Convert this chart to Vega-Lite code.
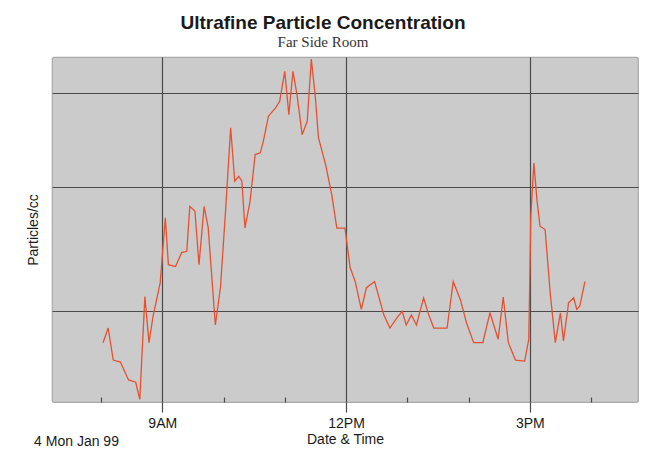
{
  "$schema": "https://vega.github.io/schema/vega-lite/v6.json",
  "autosize": {"type": "none"},
  "padding": {"left": 52, "top": 57, "right": 16, "bottom": 55},
  "width": 586,
  "height": 345,
  "background": "white",
  "config": {
    "view": {"fill": "#cbcbcb", "stroke": "#a9a9a9", "strokeWidth": 1.2, "cornerRadius": 2},
    "font": "Liberation Sans"
  },
  "title": {
    "text": "Ultrafine Particle Concentration",
    "subtitle": "Far Side Room",
    "font": "Liberation Sans",
    "fontSize": 19,
    "fontWeight": "bold",
    "color": "#1a1a1a",
    "subtitleFont": "Liberation Serif",
    "subtitleFontSize": 15,
    "subtitleColor": "#333333",
    "subtitlePadding": 2,
    "anchor": "middle",
    "dx": -22,
    "offset": 7
  },
  "layer": [
    {
      "data": {
        "values": [
          {"t": "1999-01-04T08:02", "v": 15800},
          {"t": "1999-01-04T08:07", "v": 17600},
          {"t": "1999-01-04T08:12", "v": 13900},
          {"t": "1999-01-04T08:19", "v": 13700},
          {"t": "1999-01-04T08:27", "v": 12000},
          {"t": "1999-01-04T08:34", "v": 11800},
          {"t": "1999-01-04T08:38", "v": 10400},
          {"t": "1999-01-04T08:43", "v": 22200},
          {"t": "1999-01-04T08:47", "v": 15800},
          {"t": "1999-01-04T08:51", "v": 19200},
          {"t": "1999-01-04T08:58", "v": 24600},
          {"t": "1999-01-04T09:03", "v": 39700},
          {"t": "1999-01-04T09:06", "v": 28100},
          {"t": "1999-01-04T09:13", "v": 27700},
          {"t": "1999-01-04T09:19", "v": 30700},
          {"t": "1999-01-04T09:24", "v": 31000},
          {"t": "1999-01-04T09:27", "v": 43200},
          {"t": "1999-01-04T09:32", "v": 41700},
          {"t": "1999-01-04T09:36", "v": 28100},
          {"t": "1999-01-04T09:41", "v": 43200},
          {"t": "1999-01-04T09:45", "v": 36900},
          {"t": "1999-01-04T09:52", "v": 18000},
          {"t": "1999-01-04T09:57", "v": 23700},
          {"t": "1999-01-04T10:02", "v": 41700},
          {"t": "1999-01-04T10:07", "v": 77100},
          {"t": "1999-01-04T10:11", "v": 52000},
          {"t": "1999-01-04T10:15", "v": 53900},
          {"t": "1999-01-04T10:18", "v": 52000},
          {"t": "1999-01-04T10:21", "v": 36800},
          {"t": "1999-01-04T10:26", "v": 44800},
          {"t": "1999-01-04T10:31", "v": 63300},
          {"t": "1999-01-04T10:36", "v": 64100},
          {"t": "1999-01-04T10:39", "v": 69800},
          {"t": "1999-01-04T10:44", "v": 84000},
          {"t": "1999-01-04T10:51", "v": 89300},
          {"t": "1999-01-04T10:55", "v": 93800},
          {"t": "1999-01-04T11:00", "v": 117000},
          {"t": "1999-01-04T11:04", "v": 85000},
          {"t": "1999-01-04T11:08", "v": 117000},
          {"t": "1999-01-04T11:12", "v": 98500},
          {"t": "1999-01-04T11:17", "v": 73300},
          {"t": "1999-01-04T11:22", "v": 80900},
          {"t": "1999-01-04T11:26", "v": 128000},
          {"t": "1999-01-04T11:30", "v": 96400},
          {"t": "1999-01-04T11:33", "v": 71700},
          {"t": "1999-01-04T11:40", "v": 58800},
          {"t": "1999-01-04T11:46", "v": 47100},
          {"t": "1999-01-04T11:51", "v": 36800},
          {"t": "1999-01-04T11:59", "v": 36800},
          {"t": "1999-01-04T12:04", "v": 27500},
          {"t": "1999-01-04T12:09", "v": 24800},
          {"t": "1999-01-04T12:15", "v": 20200},
          {"t": "1999-01-04T12:20", "v": 23700},
          {"t": "1999-01-04T12:28", "v": 24800},
          {"t": "1999-01-04T12:37", "v": 19400},
          {"t": "1999-01-04T12:43", "v": 17600},
          {"t": "1999-01-04T12:50", "v": 19000},
          {"t": "1999-01-04T12:55", "v": 19900},
          {"t": "1999-01-04T12:59", "v": 18000},
          {"t": "1999-01-04T13:04", "v": 19400},
          {"t": "1999-01-04T13:09", "v": 18000},
          {"t": "1999-01-04T13:16", "v": 22000},
          {"t": "1999-01-04T13:21", "v": 19400},
          {"t": "1999-01-04T13:26", "v": 17600},
          {"t": "1999-01-04T13:39", "v": 17600},
          {"t": "1999-01-04T13:45", "v": 24800},
          {"t": "1999-01-04T13:52", "v": 21700},
          {"t": "1999-01-04T13:58", "v": 18300},
          {"t": "1999-01-04T14:05", "v": 15800},
          {"t": "1999-01-04T14:14", "v": 15800},
          {"t": "1999-01-04T14:21", "v": 19700},
          {"t": "1999-01-04T14:29", "v": 16200},
          {"t": "1999-01-04T14:34", "v": 22100},
          {"t": "1999-01-04T14:39", "v": 15800},
          {"t": "1999-01-04T14:46", "v": 13900},
          {"t": "1999-01-04T14:55", "v": 13800},
          {"t": "1999-01-04T14:59", "v": 16200},
          {"t": "1999-01-04T15:01", "v": 40100},
          {"t": "1999-01-04T15:04", "v": 59500},
          {"t": "1999-01-04T15:07", "v": 45400},
          {"t": "1999-01-04T15:10", "v": 37300},
          {"t": "1999-01-04T15:15", "v": 36400},
          {"t": "1999-01-04T15:20", "v": 22800},
          {"t": "1999-01-04T15:25", "v": 15800},
          {"t": "1999-01-04T15:30", "v": 19700},
          {"t": "1999-01-04T15:33", "v": 16000},
          {"t": "1999-01-04T15:38", "v": 21200},
          {"t": "1999-01-04T15:43", "v": 22000},
          {"t": "1999-01-04T15:46", "v": 20200},
          {"t": "1999-01-04T15:49", "v": 20700},
          {"t": "1999-01-04T15:54", "v": 24800}
        ]
      },
      "mark": {"type": "line", "color": "#e8502f", "strokeWidth": 1.3},
      "encoding": {
        "x": {
          "field": "t",
          "type": "temporal",
          "scale": {
            "domain": [
              {"year": 1999, "month": 1, "date": 4, "hours": 7, "minutes": 12},
              {"year": 1999, "month": 1, "date": 4, "hours": 16, "minutes": 46}
            ],
            "nice": false
          },
          "axis": {
            "title": "Date & Time",
            "titleFontSize": 14,
            "titleFontWeight": "normal",
            "titleColor": "#1a1a1a",
            "titlePadding": 2,
            "values": [
              {"year": 1999, "month": 1, "date": 4, "hours": 8},
              {"year": 1999, "month": 1, "date": 4, "hours": 9},
              {"year": 1999, "month": 1, "date": 4, "hours": 10},
              {"year": 1999, "month": 1, "date": 4, "hours": 11},
              {"year": 1999, "month": 1, "date": 4, "hours": 12},
              {"year": 1999, "month": 1, "date": 4, "hours": 13},
              {"year": 1999, "month": 1, "date": 4, "hours": 14},
              {"year": 1999, "month": 1, "date": 4, "hours": 15},
              {"year": 1999, "month": 1, "date": 4, "hours": 16}
            ],
            "labelExpr": "hours(datum.value) % 3 == 0 ? timeFormat(datum.value, '%-I%p') : ''",
            "labelFontSize": 14,
            "labelColor": "#1a1a1a",
            "labelPadding": 4,
            "labelFlush": false,
            "labelOverlap": false,
            "domain": false,
            "grid": true,
            "gridColor": {"condition": {"test": "hours(datum.value) % 3 == 0", "value": "#4a4a4a"}, "value": "transparent"},
            "gridWidth": 1.2,
            "tickColor": "#4a4a4a",
            "tickWidth": 1.2,
            "tickSize": {"condition": {"test": "hours(datum.value) % 3 == 0", "value": 10}, "value": -5}
          }
        },
        "y": {
          "field": "v",
          "type": "quantitative",
          "scale": {"type": "log", "domain": [10200, 130000], "nice": false},
          "axis": {
            "title": "Particles/cc",
            "titleFontSize": 14,
            "titleFontWeight": "normal",
            "titleColor": "#1a1a1a",
            "titlePadding": 12,
            "values": [20000, 50000, 100000],
            "labels": false,
            "ticks": false,
            "domain": false,
            "grid": true,
            "gridColor": "#4a4a4a",
            "gridWidth": 1.2
          }
        }
      }
    },
    {
      "data": {"values": [{"label": "4 Mon Jan 99"}]},
      "mark": {"type": "text", "fontSize": 14, "color": "#1a1a1a", "baseline": "middle", "align": "center", "dy": 40},
      "encoding": {
        "x": {"datum": {"year": 1999, "month": 1, "date": 4, "hours": 7, "minutes": 36}, "type": "temporal"},
        "y": {"datum": 10200, "type": "quantitative"},
        "text": {"field": "label"}
      }
    }
  ]
}
